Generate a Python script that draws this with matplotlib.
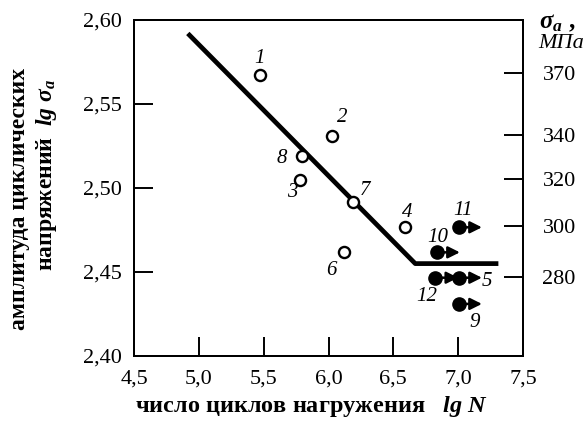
import numpy as np
import matplotlib.pyplot as plt

plt.rcParams['font.family'] = ['Liberation Serif', 'DejaVu Serif']
plt.rcParams['mathtext.fontset'] = 'custom'
plt.rcParams['mathtext.rm'] = 'Liberation Serif:bold'
plt.rcParams['mathtext.it'] = 'Liberation Serif:italic:bold'
plt.rcParams['mathtext.bf'] = 'Liberation Serif:bold'

# regression line (break at fatigue limit)
line_x = [4.915, 6.669, 7.31]
line_y = [2.592, 2.455, 2.455]

# broken specimens (open circles)
open_labels = ['1', '2', '8', '3', '7', '4', '6']
open_x = [5.469, 6.028, 5.797, 5.782, 6.192, 6.590, 6.123]
open_y = [2.567, 2.531, 2.519, 2.505, 2.4915, 2.4765, 2.4617]

# run-outs (filled circles with arrows)
run_labels = ['11', '10', '12', '5', '9']
run_x = [7.003, 6.833, 6.820, 7.003, 7.003]
run_y = [2.4766, 2.4617, 2.4466, 2.4466, 2.431]

# label offsets in pixels
open_offsets = [(0, 17), (10, 18), (-20, -2), (-8, -13), (12, 12), (2, 15), (-13, -18)]
run_offsets = [(4, 17), (1, 15), (-8, -19), (28, -4), (16, -19)]

sigma_ticks = [280, 300, 320, 340, 370]
x_ticks = [4.5, 5.0, 5.5, 6.0, 6.5, 7.0, 7.5]
y_ticks = [2.40, 2.45, 2.50, 2.55, 2.60]

fig = plt.figure(figsize=(5.87, 4.36), dpi=100)
ax = fig.add_axes([0.2283, 0.1835, 0.6627, 0.7706])

ax.plot(line_x, line_y, color='black', lw=3.4, solid_capstyle='butt', zorder=2)
ax.plot(open_x, open_y, 'o', ms=8, mfc='white', mec='black', mew=1.7, zorder=3)
ax.plot(run_x, run_y, 'o', ms=9.5, color='black', zorder=3)

for x, y in zip(run_x, run_y):
    ax.annotate('', xy=(x + 0.18, y), xytext=(x, y),
                arrowprops=dict(arrowstyle='-|>,head_length=0.7,head_width=0.35',
                                color='black', lw=1.8, shrinkA=0, shrinkB=0))

for lab, x, y, off in zip(open_labels + run_labels, open_x + run_x,
                          open_y + run_y, open_offsets + run_offsets):
    ax.annotate(lab, (x, y), xytext=off, textcoords='offset pixels',
                ha='center', va='center', fontsize=15, fontstyle='italic')

ax.set_xlim(4.5, 7.5)
ax.set_ylim(2.40, 2.60)
ax.set_xticks(x_ticks)
ax.set_xticklabels([f'{v:.1f}'.replace('.', ',') for v in x_ticks])
ax.set_yticks(y_ticks)
ax.set_yticklabels([f'{v:.2f}'.replace('.', ',') for v in y_ticks])
ax.tick_params(direction='in', length=14, width=1.4, labelsize=16, top=False, right=False)
ax.tick_params(axis='y', pad=9)
ax.tick_params(axis='x', pad=10)
for s in ax.spines.values():
    s.set_linewidth(1.4)

ax2 = ax.twinx()
ax2.set_ylim(2.40, 2.60)
ax2.set_yticks(np.log10(sigma_ticks))
ax2.set_yticklabels([str(v) for v in sigma_ticks])
ax2.tick_params(direction='in', length=14, width=1.4, labelsize=16, pad=14)
for s in ax2.spines.values():
    s.set_linewidth(1.4)

fig.text(0.034, 0.544, 'амплитуда циклических', rotation=90, ha='center', va='center',
         fontsize=17, fontweight='bold')
fig.text(0.080, 0.598, r'напряжений  $lg\ \sigma_a$', rotation=90, ha='center', va='center',
         fontsize=17, fontweight='bold')
fig.text(0.53, 0.068, r'число циклов нагружения   $lg\ N$', ha='center', va='center',
         fontsize=17.5, fontweight='bold')
fig.text(0.949, 0.948, r'$\sigma_a$ ,', ha='center', va='center', fontsize=18, fontweight='bold')
fig.text(0.956, 0.900, 'МПа', ha='center', va='center', fontsize=16, fontstyle='italic')

fig.savefig('out.png', dpi=100)
